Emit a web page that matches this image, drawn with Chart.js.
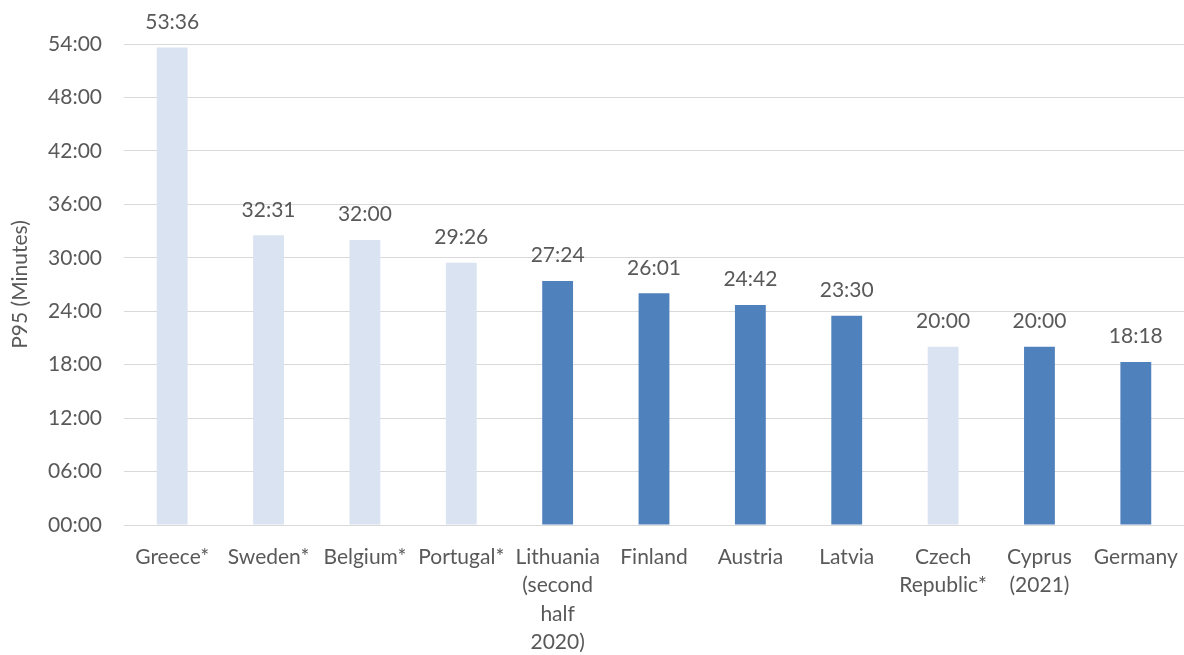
<!DOCTYPE html>
<html>
<head>
<meta charset="utf-8">
<script src="https://cdn.jsdelivr.net/npm/chart.js@4"></script>
<style>
  html, body { margin: 0; padding: 0; background: #ffffff; }
  #wrap { width: 1184px; height: 655px; position: relative; }
</style>
</head>
<body>
<div id="wrap"><canvas id="chart"></canvas></div>
<script>
// Countries (multi-line entries are arrays of lines)
const categories = [
  'Greece*', 'Sweden*', 'Belgium*', 'Portugal*',
  ['Lithuania', '(second', 'half', '2020)'],
  'Finland', 'Austria', 'Latvia',
  ['Czech', 'Republic*'], ['Cyprus', '(2021)'], 'Germany'
];

// P95 response times as mm:ss
const p95Times = ['53:36', '32:31', '32:00', '29:26', '27:24', '26:01', '24:42', '23:30', '20:00', '20:00', '18:18'];

// Whether the country is marked with an asterisk (drawn in the pale shade)
const flagged = [true, true, true, true, false, false, false, false, true, false, false];

// y-axis ticks, in minutes
const yMin = 0;
const yMax = 54;
const yStep = 6;

const PALE = '#DAE3F1';
const BLUE = '#4F81BD';
const TEXT = '#595959';
const FONT = 'Lato, "Open Sans", "Noto Sans", sans-serif';

const toMinutes = s => { const [m, sec] = s.split(':').map(Number); return m + sec / 60; };
const values = p95Times.map(toMinutes);
const colors = flagged.map(f => f ? PALE : BLUE);

const mmss = v => {
  const m = Math.floor(v + 1e-9);
  return String(m).padStart(2, '0') + ':00';
};

// Draws the mm:ss value above each bar
const valueLabels = {
  id: 'valueLabels',
  afterDatasetsDraw(chart) {
    const ctx = chart.ctx;
    const meta = chart.getDatasetMeta(0);
    ctx.save();
    ctx.font = '21px ' + FONT;
    ctx.fillStyle = TEXT;
    ctx.textAlign = 'center';
    ctx.textBaseline = 'bottom';
    meta.data.forEach((bar, i) => {
      ctx.fillText(p95Times[i], bar.x, bar.y - 15);
    });
    ctx.restore();
  }
};

new Chart(document.getElementById('chart'), {
  type: 'bar',
  data: {
    labels: categories,
    datasets: [{
      data: values,
      backgroundColor: colors,
      borderWidth: 0,
      barPercentage: 0.32,
      categoryPercentage: 1.0
    }]
  },
  options: {
    responsive: true,
    maintainAspectRatio: false,
    animation: false,
    layout: { padding: { top: 44, right: 0, bottom: 0, left: 0 } },
    plugins: {
      legend: { display: false },
      tooltip: { enabled: false }
    },
    scales: {
      x: {
        grid: { display: false, drawTicks: false },
        border: { display: true, color: '#D9D9D9', width: 1 },
        ticks: {
          color: TEXT,
          font: { family: FONT, size: 21, lineHeight: 1.35 },
          maxRotation: 0,
          autoSkip: false,
          padding: 18
        },
        afterFit(scale) {
          scale.height = 130;
          scale.paddingLeft = 0;
          scale.paddingRight = 0;
        }
      },
      y: {
        min: yMin,
        max: yMax,
        grid: { color: '#D9D9D9', lineWidth: 1, drawTicks: false },
        border: { display: false },
        ticks: {
          stepSize: yStep,
          color: TEXT,
          font: { family: FONT, size: 21 },
          padding: 22,
          callback: v => mmss(v)
        },
        title: {
          display: true,
          text: 'P95 (Minutes)',
          color: TEXT,
          font: { family: FONT, size: 21 },
          padding: { top: 8, bottom: 0 }
        },
        afterFit(scale) { scale.width = 124; }
      }
    }
  },
  plugins: [valueLabels]
});
</script>
</body>
</html>
